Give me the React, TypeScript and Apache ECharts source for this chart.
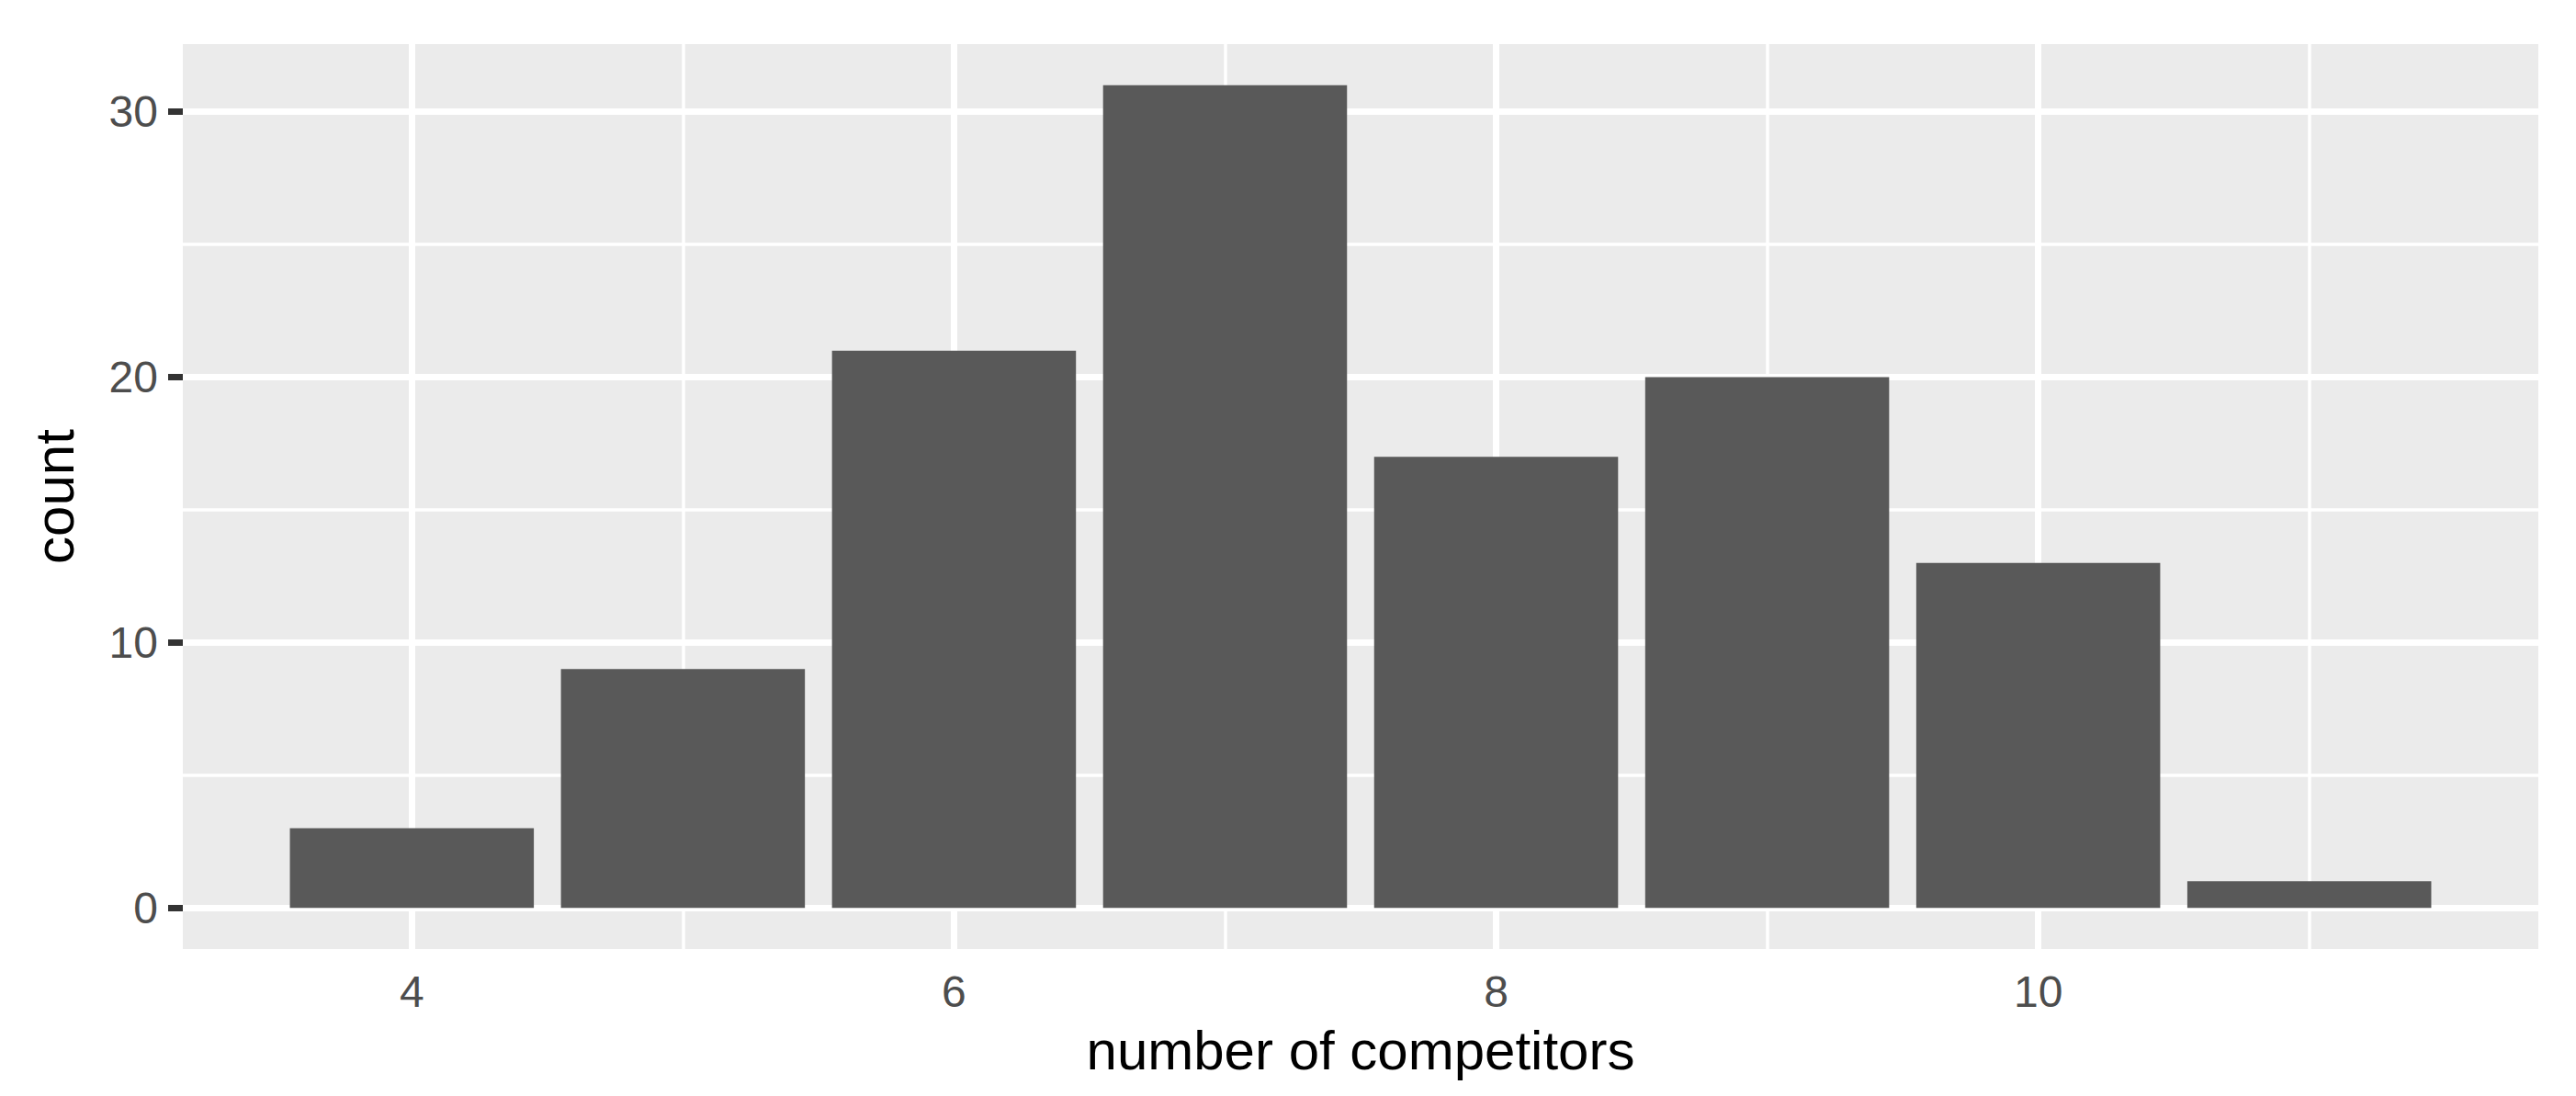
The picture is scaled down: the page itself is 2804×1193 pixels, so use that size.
import React, { useEffect, useRef } from "react";
import * as echarts from "echarts";

const competitors = [4, 5, 6, 7, 8, 9, 10, 11];
const counts = [3, 9, 21, 31, 17, 20, 13, 1];
const xMajorTicks = [4, 6, 8, 10];
const xMinorTicks = [5, 7, 9, 11];
const yMajorTicks = [0, 10, 20, 30];
const yMinorTicks = [5, 15, 25];

const X_MIN = 3.155;
const X_MAX = 11.845;
const Y_MIN = -1.55;
const Y_MAX = 32.55;
const BAR_FRACTION = 0.9;

const W = 2804;
const H = 1193;
const GRID = { left: 199, top: 48, width: 2564, height: 985 };
const FONT = "'Liberation Sans', Arial, Helvetica, sans-serif";

export default function App() {
  const ref = useRef<HTMLDivElement>(null);

  useEffect(() => {
    if (!ref.current) return;
    const chart = echarts.init(ref.current, undefined, { renderer: "svg" });
    const barWidth = (GRID.width / (X_MAX - X_MIN)) * BAR_FRACTION;

    const gridLines = [
      ...xMajorTicks.map((v) => ({ xAxis: v, lineStyle: { width: 7 } })),
      ...xMinorTicks.map((v) => ({ xAxis: v, lineStyle: { width: 3.5 } })),
      ...yMajorTicks.map((v) => ({ yAxis: v, lineStyle: { width: 7 } })),
      ...yMinorTicks.map((v) => ({ yAxis: v, lineStyle: { width: 3.5 } })),
    ];

    chart.setOption({
      animation: false,
      backgroundColor: "#ffffff",
      textStyle: { fontFamily: FONT },
      grid: {
        left: GRID.left,
        top: GRID.top,
        width: GRID.width,
        height: GRID.height,
        show: true,
        backgroundColor: "#EBEBEB",
        borderWidth: 0,
        containLabel: false,
      },
      xAxis: {
        type: "value",
        min: X_MIN,
        max: X_MAX,
        name: "number of competitors",
        nameLocation: "middle",
        nameGap: 80,
        nameTextStyle: { color: "#000000", fontSize: 60, fontFamily: FONT },
        axisLine: { show: false },
        axisTick: {
          show: true,
          customValues: xMajorTicks,
          length: 16,
          lineStyle: { color: "#333333", width: 7 },
        },
        axisLabel: {
          show: true,
          customValues: xMajorTicks,
          color: "#4D4D4D",
          fontSize: 48,
          margin: 22,
          fontFamily: FONT,
        },
        splitLine: { show: false },
        minorSplitLine: { show: false },
      },
      yAxis: {
        type: "value",
        min: Y_MIN,
        max: Y_MAX,
        name: "count",
        nameLocation: "middle",
        nameGap: 110,
        nameTextStyle: { color: "#000000", fontSize: 60, fontFamily: FONT },
        axisLine: { show: false },
        axisTick: {
          show: true,
          customValues: yMajorTicks,
          length: 16,
          lineStyle: { color: "#333333", width: 7 },
        },
        axisLabel: {
          show: true,
          customValues: yMajorTicks,
          color: "#4D4D4D",
          fontSize: 48,
          margin: 27,
          fontFamily: FONT,
        },
        splitLine: { show: false },
        minorSplitLine: { show: false },
      },
      series: [
        {
          type: "bar",
          z: 2,
          data: competitors.map((c, i) => [c, counts[i]]),
          barWidth,
          itemStyle: { color: "#595959" },
          emphasis: { disabled: true },
          markLine: {
            z: 1,
            silent: true,
            symbol: "none",
            label: { show: false },
            emphasis: { disabled: true },
            lineStyle: { color: "#ffffff", type: "solid" },
            data: gridLines,
          },
        },
      ],
    });

    return () => chart.dispose();
  }, []);

  return (
    <div
      ref={ref}
      style={{ position: "absolute", left: 0, top: 0, width: W, height: H }}
    />
  );
}
